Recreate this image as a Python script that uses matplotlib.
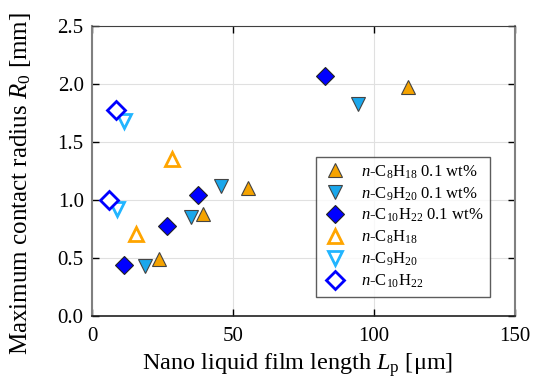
import matplotlib
matplotlib.use("Agg")
import matplotlib.pyplot as plt

plt.rcParams['font.family'] = 'Liberation Serif'
plt.rcParams['mathtext.fontset'] = 'custom'
plt.rcParams['mathtext.rm'] = 'Liberation Serif'
plt.rcParams['mathtext.it'] = 'Liberation Serif:italic'

# filled = 0.1 wt%, open = pure
c8_wt_x = [23.7, 39.4, 55.3, 111.9]
c8_wt_y = [0.49, 0.88, 1.10, 1.97]
c9_wt_x = [18.9, 35.1, 45.8, 94.2]
c9_wt_y = [0.43, 0.85, 1.12, 1.83]
c10_wt_x = [11.2, 26.7, 37.7, 82.8]
c10_wt_y = [0.44, 0.78, 1.04, 2.07]
c8_x = [15.6, 28.3]
c8_y = [0.71, 1.35]
c9_x = [8.8, 11.5]
c9_y = [0.92, 1.68]
c10_x = [5.9, 8.6]
c10_y = [1.00, 1.78]

orange = '#F5A300'
cyan = '#1AA7EC'
blue = '#0000FF'

fig = plt.figure(figsize=(5.34, 3.85), dpi=100)
ax = fig.add_axes([0.1723, 0.1792, 0.7921, 0.7533])

ax.plot(c8_wt_x, c8_wt_y, '^', ms=10, mfc=orange, mec='#444444', mew=0.8,
        label=r'$n$-C$_8$H$_{18}$ 0.1 wt%')
ax.plot(c9_wt_x, c9_wt_y, 'v', ms=10, mfc=cyan, mec='#444444', mew=0.8,
        label=r'$n$-C$_9$H$_{20}$ 0.1 wt%')
ax.plot(c10_wt_x, c10_wt_y, 'D', ms=9, mfc=blue, mec='#222222', mew=0.8,
        label=r'$n$-C$_{10}$H$_{22}$ 0.1 wt%')
ax.plot(c8_x, c8_y, '^', ms=10, mfc='white', mec='#FFA500', mew=2,
        label=r'$n$-C$_8$H$_{18}$')
ax.plot(c9_x, c9_y, 'v', ms=10, mfc='white', mec='#22B5FF', mew=2,
        label=r'$n$-C$_9$H$_{20}$')
ax.plot(c10_x, c10_y, 'D', ms=9, mfc='white', mec=blue, mew=2,
        label=r'$n$-C$_{10}$H$_{22}$')

ax.set_xlim(0, 150)
ax.set_ylim(0, 2.5)
ax.set_xticks([0, 50, 100, 150])
ax.set_yticks([0, 0.5, 1.0, 1.5, 2.0, 2.5])
ax.set_yticklabels(['0.0', '0.5', '1.0', '1.5', '2.0', '2.5'])
ax.grid(True, color='#e0e0e0', lw=0.8)
ax.set_axisbelow(True)
ax.tick_params(direction='in', top=True, right=True, labelsize=15, length=5, width=1)
ax.tick_params(axis='x', pad=8)
ax.tick_params(axis='y', pad=6)
for side in ['left', 'right']:
    ax.spines[side].set_color('#808080')
    ax.spines[side].set_linewidth(1.5)
ax.spines['top'].set_color('#404040')
ax.spines['bottom'].set_color('#202020')
ax.spines['bottom'].set_linewidth(1.2)

ax.set_xlabel(r'Nano liquid film length $L_{\rm p}$ [μm]', fontsize=17.5)
ax.set_ylabel(r'Maximum contact radius $R_0$ [mm]', fontsize=18)
ax.xaxis.set_label_coords(0.487, -0.12)
ax.yaxis.set_label_coords(-0.14, 0.457)

leg = ax.legend(loc='lower right', bbox_to_anchor=(0.941, 0.066), fontsize=12,
                frameon=True, fancybox=False, edgecolor='#333333',
                handlelength=1.5, handletextpad=0.8, labelspacing=0.27,
                borderpad=0.4, borderaxespad=0)
leg.get_frame().set_linewidth(1.0)

fig.savefig('out.png', dpi=100)
